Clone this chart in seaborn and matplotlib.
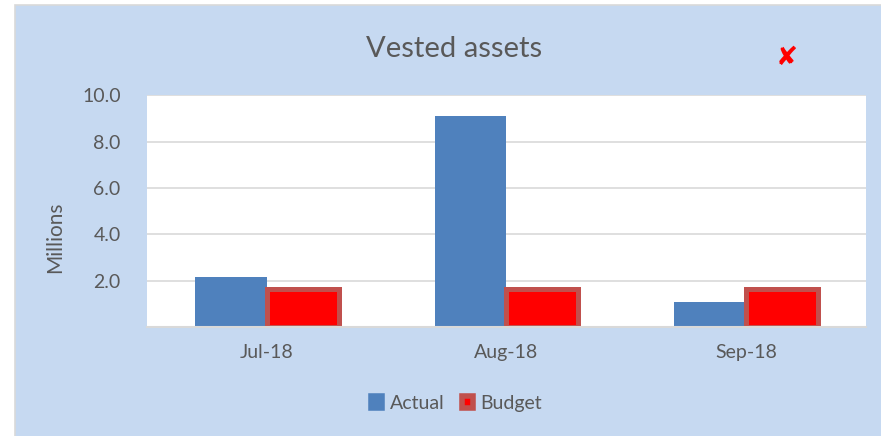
import matplotlib
matplotlib.use('Agg')
import matplotlib.pyplot as plt
import matplotlib.patches as mpatches
import seaborn as sns
import pandas as pd

meses = ['Jul-18', 'Aug-18', 'Sep-18']
actual = [2.15, 9.1, 1.07]
budget = [1.65, 1.65, 1.65]
series = ['Actual', 'Budget']
yticks = [2, 4, 6, 8, 10]

df = pd.DataFrame({
    'Mes': meses * 2,
    'Serie': ['Actual'] * 3 + ['Budget'] * 3,
    'Valor': actual + budget,
})

sns.set_theme(style='white')
plt.rcParams['font.family'] = ['Lato', 'DejaVu Sans']
cinza = '#595959'
fundo = '#C6D9F1'

fig = plt.figure(figsize=(8.81, 4.36), dpi=100)
fig.patch.set_facecolor('white')
fig.add_artist(mpatches.Rectangle((15 / 881, -0.01), 1.0, 1 - 5 / 436 + 0.01,
                                  transform=fig.transFigure, facecolor=fundo,
                                  edgecolor='#D9D9D9', linewidth=1.2, zorder=-10))

ax = fig.add_axes([147 / 881, 1 - 327 / 436, (866 - 147) / 881, (327 - 95.4) / 436])
ax.set_facecolor('white')

sns.barplot(data=df, x='Mes', y='Valor', hue='Serie', order=meses, hue_order=series,
            palette={'Actual': '#4F81BD', 'Budget': '#FF0000'},
            width=0.6, gap=0, saturation=1, ax=ax, zorder=3)

for p in ax.containers[0]:
    p.set_linewidth(0)
for p in ax.containers[1]:
    p.set_edgecolor('#C0504D')
    p.set_linewidth(3.6)

ax.set_ylim(0, 10)
ax.set_yticks(yticks)
ax.set_yticklabels([f'{v:.1f}' for v in yticks])
ax.yaxis.grid(True, color='#D9D9D9', linewidth=1.2, zorder=0)
ax.set_axisbelow(True)
ax.tick_params(axis='y', length=0, pad=19, labelsize=14, labelcolor=cinza)
ax.tick_params(axis='x', length=0, pad=12, labelsize=14, labelcolor=cinza)
ax.set_xlabel('')
ax.set_ylabel('')
for lado in ['left', 'right', 'top']:
    ax.spines[lado].set_visible(False)
ax.spines['bottom'].set_color('#D9D9D9')
ax.spines['bottom'].set_linewidth(1.5)
ax.spines['bottom'].set_zorder(4)

ax.get_legend().remove()

fig.text(55 / 881, 1 - 237 / 436, 'Millions', rotation=90, ha='center', va='center',
         fontsize=15, color=cinza)
fig.text(454 / 881, 1 - 56.7 / 436, 'Vested assets', ha='center', va='baseline',
         fontsize=21, color=cinza)
fig.text(787 / 881, 1 - 58 / 436, '\u2718', ha='center', va='center',
         fontsize=19, color='#FF0000', family='DejaVu Sans')

alcas = [
    mpatches.Patch(facecolor='#4F81BD', edgecolor='#4F81BD', linewidth=4),
    mpatches.Patch(facecolor='#FF0000', edgecolor='#C0504D', linewidth=4),
]
fig.legend(alcas, series, loc='center', bbox_to_anchor=(456.5 / 881, 1 - 403.5 / 436),
           ncol=2, frameon=False, fontsize=14, labelcolor=cinza,
           handlelength=0.55, handleheight=0.55, handletextpad=0.4, columnspacing=0.9)

fig.savefig('out.png', dpi=100, facecolor=fig.get_facecolor())
